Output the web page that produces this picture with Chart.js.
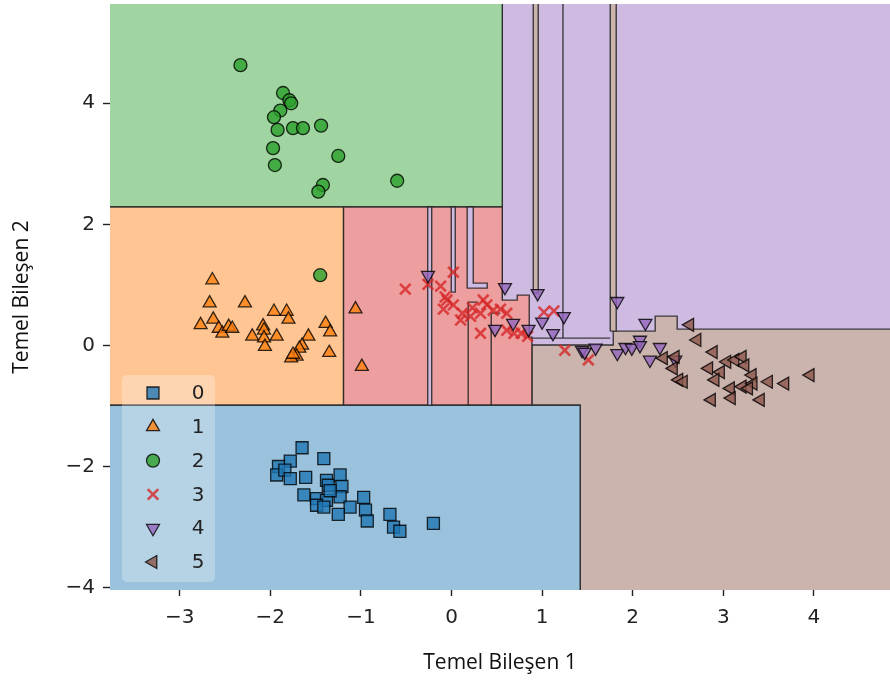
<!DOCTYPE html>
<html>
<head>
<meta charset="utf-8">
<title>Karar bölgeleri</title>
<script src="https://cdn.jsdelivr.net/npm/chart.js@4.4.1/dist/chart.umd.min.js"></script>
<style>
  html, body { margin: 0; padding: 0; background: #fff; }
  #wrap { width: 890px; height: 681px; }
</style>
</head>
<body>
<div id="wrap"><canvas id="regions" width="890" height="681"></canvas></div>
<script>
// axis ranges and ticks
const xLimits = [-3.77, 4.84];
const yLimits = [-4.04, 5.64];
const xTickValues = [-3, -2, -1, 0, 1, 2, 3, 4];
const yTickValues = [-4, -2, 0, 2, 4];
const classLabels = ['0', '1', '2', '3', '4', '5'];

// samples per class: [Temel Bileşen 1, Temel Bileşen 2]
const class0 = [[-1.65, -1.69], [-1.78, -1.91], [-1.91, -2.00], [-1.93, -2.14], [-1.84, -2.06], [-1.78, -2.20],
  [-1.61, -2.18], [-1.41, -1.87], [-1.38, -2.23], [-1.36, -2.31], [-1.23, -2.14], [-1.21, -2.33], [-1.63, -2.47],
  [-1.49, -2.53], [-1.38, -2.56], [-1.23, -2.50], [-1.12, -2.67], [-0.97, -2.51], [-0.95, -2.72], [-0.93, -2.90],
  [-1.25, -2.79], [-1.49, -2.64], [-1.41, -2.67], [-1.34, -2.40], [-0.68, -2.79], [-0.64, -3.00], [-0.57, -3.07],
  [-0.20, -2.94]];
const class1 = [[-2.64, 1.08], [-2.67, 0.70], [-2.28, 0.70], [-2.77, 0.34], [-2.63, 0.43], [-2.57, 0.28],
  [-2.53, 0.20], [-2.46, 0.31], [-2.42, 0.28], [-2.20, 0.15], [-2.08, 0.32], [-2.07, 0.25], [-2.07, 0.12],
  [-2.06, -0.02], [-1.93, 0.15], [-1.96, 0.56], [-1.82, 0.56], [-1.80, 0.43], [-1.58, 0.15], [-1.65, 0.00],
  [-1.68, -0.05], [-1.71, -0.18], [-1.77, -0.21], [-1.75, -0.15], [-1.39, 0.36], [-1.34, 0.22], [-1.35, -0.12],
  [-1.06, 0.60], [-0.99, -0.35]];
const class2 = [[-2.33, 4.63], [-1.86, 4.17], [-1.79, 4.05], [-1.77, 4.00], [-1.89, 3.88], [-1.96, 3.77],
  [-1.92, 3.56], [-1.75, 3.59], [-1.64, 3.59], [-1.44, 3.63], [-1.97, 3.26], [-1.95, 2.98], [-1.25, 3.13],
  [-1.42, 2.65], [-1.47, 2.54], [-0.60, 2.72], [-1.45, 1.16]];
const class3 = [[-0.51, 0.93], [-0.26, 1.01], [-0.12, 0.98], [0.02, 1.21], [-0.07, 0.80], [-0.09, 0.60],
  [0.02, 0.67], [0.12, 0.53], [0.21, 0.48], [0.23, 0.62], [0.32, 0.53], [0.35, 0.75], [0.39, 0.67],
  [0.32, 0.20], [0.46, 0.58], [0.54, 0.60], [0.61, 0.53], [0.61, 0.25], [0.69, 0.20], [0.77, 0.20],
  [0.84, 0.15], [1.02, 0.55], [1.13, 0.57], [1.25, -0.08], [1.51, -0.24], [-0.05, 0.75], [0.10, 0.42]];
const class4 = [[-0.26, 1.16], [0.59, 0.96], [0.95, 0.86], [0.48, 0.27], [0.68, 0.37], [0.85, 0.27],
  [1.00, 0.39], [1.12, 0.20], [1.24, 0.48], [1.83, 0.73], [1.44, -0.08], [1.59, -0.04], [1.83, -0.13],
  [1.92, -0.03], [1.99, -0.04], [2.08, 0.09], [2.14, 0.37], [2.30, -0.03], [2.19, -0.24], [2.47, -0.24],
  [1.47, -0.11], [2.08, 0.00]];
const class5 = [[2.63, 0.34], [2.71, 0.09], [2.89, -0.11], [3.04, -0.27], [3.13, -0.24], [3.21, -0.19],
  [3.24, -0.33], [2.84, -0.38], [2.97, -0.44], [2.91, -0.57], [3.08, -0.71], [3.21, -0.68], [3.32, -0.49],
  [3.33, -0.63], [3.28, -0.71], [3.50, -0.60], [3.68, -0.63], [3.96, -0.49], [2.87, -0.90], [3.41, -0.90],
  [2.34, -0.21], [2.45, -0.38], [2.51, -0.57], [2.56, -0.60], [2.47, -0.19], [3.09, -0.87]];
const samples = [class0, class1, class2, class3, class4, class5];

// decision regions of the classifier (polygon corners), grid runs a bit past the axes
const gx0 = -4.0, gx1 = 5.1, gy0 = -4.3, gy1 = 5.9;
const region4 = [[0.56, 0.005], [0.56, gy1], [gx1, gy1], [gx1, 0.005]];
const region5 = [[0.887, 0.005], [1.785, 0.005], [1.785, 0.236], [2.248, 0.236], [2.248, 0.484], [2.491, 0.484],
  [2.491, 0.269], [gx1, 0.269], [gx1, gy0], [1.42, gy0], [1.42, -0.987], [0.887, -0.987]];
const region2 = [[gx0, 2.286], [gx0, gy1], [0.56, gy1], [0.56, 2.286]];
const region1 = [[gx0, -0.987], [gx0, 2.286], [-1.192, 2.286], [-1.192, -0.987]];
const region3 = [[-1.192, 2.286], [0.56, 2.286], [0.56, 0.749], [0.725, 0.749], [0.725, 0.831], [0.858, 0.831],
  [0.858, 0.137], [0.887, 0.137], [0.887, -0.987], [-1.192, -0.987]];
const region0 = [[gx0, gy0], [gx0, -0.987], [1.42, -0.987], [1.42, gy0]];
// narrow slivers
const sliver4a = [[-0.263, -0.987], [-0.263, 2.286], [-0.219, 2.286], [-0.219, -0.987]];
const sliver4b = [[-0.003, 0.881], [-0.003, 2.286], [0.041, 2.286], [0.041, 0.881]];
const sliver4c = [[0.173, 2.286], [0.240, 2.286], [0.240, 1.030], [0.394, 1.030], [0.394, 0.947], [0.173, 0.947]];
const sliver5a = [[0.902, 0.864], [0.902, gy1], [0.957, gy1], [0.957, 0.864]];
const sliver5b = [[1.752, 0.236], [1.752, gy1], [1.818, gy1], [1.818, 0.236]];
// zero-width boundaries
const edge1 = [[0.184, -0.987], [0.184, 0.716], [0.295, 0.716]];
const edge2 = [[0.438, -0.987], [0.438, 0.534], [0.538, 0.534]];
const edge3 = [[1.23, gy1], [1.23, 0.121]];
const edge4 = [[0.887, 0.121], [1.752, 0.121]];

const regionLayers = [
  [4, region4], [5, region5], [2, region2], [1, region1], [3, region3], [0, region0],
  [4, sliver4a], [4, sliver4b], [4, sliver4c], [5, sliver5a], [5, sliver5b]
];
const edgeLines = [edge1, edge2, edge3, edge4];

const markerColors = ['31,119,180', '255,127,14', '44,160,44', '214,39,40', '148,103,189', '140,86,75'];
const regionColors = ['#9ac2dd', '#ffc593', '#a0d4a0', '#ed9e9e', '#cfbbe1', '#cbb3ae'];
const markerStyles = [
  { pointStyle: 'rect', rotation: 0, radius: 8.5 },
  { pointStyle: 'triangle', rotation: 0, radius: 7.5 },
  { pointStyle: 'circle', rotation: 0, radius: 6.5 },
  { pointStyle: 'crossRot', rotation: 0, radius: 7.5 },
  { pointStyle: 'triangle', rotation: 180, radius: 7.5 },
  { pointStyle: 'triangle', rotation: -90, radius: 7.5 }
];
const edgeColor = 'rgba(35,35,35,0.85)';

const toXY = pts => pts.map(([x, y]) => ({ x, y }));
const closed = pts => toXY(pts.concat([pts[0]]));
const tickText = v => (v < 0 ? '\u2212' + Math.abs(v) : String(v));

function markerPaint(cls) {
  const c = markerColors[cls];
  if (cls === 3) return { fill: 'rgba(' + c + ',0.8)', stroke: 'rgba(' + c + ',0.8)', width: 2.6 };
  return { fill: 'rgba(' + c + ',0.8)', stroke: 'rgba(0,0,0,0.8)', width: 1.3 };
}

const datasets = [];
regionLayers.forEach(([cls, pts], i) => {
  datasets.push({
    data: closed(pts),
    showLine: true,
    fill: 'shape',
    backgroundColor: regionColors[cls],
    borderColor: edgeColor,
    borderWidth: 1.4,
    pointRadius: 0,
    pointHoverRadius: 0,
    tension: 0,
    clip: 0,
    order: 1000 - i
  });
});
edgeLines.forEach((pts, i) => {
  datasets.push({
    data: toXY(pts),
    showLine: true,
    fill: false,
    borderColor: edgeColor,
    borderWidth: 1.4,
    pointRadius: 0,
    pointHoverRadius: 0,
    clip: 0,
    order: 500 - i
  });
});
samples.forEach((pts, cls) => {
  const st = markerStyles[cls];
  const paint = markerPaint(cls);
  datasets.push({
    label: classLabels[cls],
    data: toXY(pts),
    showLine: false,
    pointStyle: st.pointStyle,
    pointRotation: st.rotation,
    pointRadius: st.radius,
    pointHoverRadius: st.radius,
    pointBackgroundColor: paint.fill,
    pointBorderColor: paint.stroke,
    pointBorderWidth: paint.width,
    order: 50 - cls
  });
});

// legend drawn inside the plot, lower left
const insetLegend = {
  id: 'insetLegend',
  afterDatasetsDraw(chart) {
    const { ctx, chartArea } = chart;
    const boxW = 93, boxH = 207;
    const boxX = chartArea.left + 12;
    const boxY = chartArea.bottom - 8 - boxH;
    ctx.save();
    ctx.fillStyle = 'rgba(255,255,255,0.28)';
    ctx.beginPath();
    if (ctx.roundRect) ctx.roundRect(boxX, boxY, boxW, boxH, 5); else ctx.rect(boxX, boxY, boxW, boxH);
    ctx.fill();
    ctx.font = '20px "DejaVu Sans"';
    ctx.textAlign = 'center';
    ctx.textBaseline = 'middle';
    classLabels.forEach((label, i) => {
      const y = boxY + 18 + i * 33.8;
      const st = markerStyles[i];
      const paint = markerPaint(i);
      ctx.fillStyle = paint.fill;
      ctx.strokeStyle = paint.stroke;
      ctx.lineWidth = paint.width;
      Chart.helpers.drawPoint(ctx, { pointStyle: st.pointStyle, rotation: st.rotation, radius: st.radius, borderWidth: paint.width }, boxX + 31, y);
      ctx.fillStyle = '#222';
      ctx.fillText(label, boxX + 76, y + 1);
    });
    ctx.restore();
  }
};

// keep the plot frame flush with the canvas edges
function noLabelPadding(axis) {
  axis.paddingLeft = 0;
  axis.paddingRight = 0;
  axis.paddingTop = 0;
  axis.paddingBottom = 0;
}

Chart.defaults.font.family = 'DejaVu Sans';

new Chart(document.getElementById('regions'), {
  type: 'scatter',
  data: { datasets },
  plugins: [insetLegend],
  options: {
    responsive: false,
    devicePixelRatio: 1,
    animation: false,
    events: [],
    layout: { autoPadding: false, padding: { top: 4, right: 0, bottom: 0, left: 0 } },
    plugins: { legend: { display: false }, tooltip: { enabled: false } },
    scales: {
      x: {
        type: 'linear',
        min: xLimits[0],
        max: xLimits[1],
        afterBuildTicks: axis => { axis.ticks = xTickValues.map(v => ({ value: v })); },
        afterFit: axis => { axis.height = 91; noLabelPadding(axis); },
        grid: { drawOnChartArea: false, drawTicks: true, tickLength: 6, tickColor: '#222', tickWidth: 1.4 },
        border: { display: false },
        ticks: { font: { size: 20 }, color: '#222', padding: 10, maxRotation: 0, autoSkip: false, callback: tickText },
        title: { display: true, text: 'Temel Bileşen 1', color: '#111', font: { family: 'Open Sans', size: 21 }, padding: { top: 0, bottom: 5 } }
      },
      y: {
        type: 'linear',
        min: yLimits[0],
        max: yLimits[1],
        afterBuildTicks: axis => { axis.ticks = yTickValues.map(v => ({ value: v })); },
        afterFit: axis => { axis.width = 110; noLabelPadding(axis); },
        grid: { drawOnChartArea: false, drawTicks: true, tickLength: 7, tickColor: '#222', tickWidth: 1.4 },
        border: { display: false },
        ticks: { font: { size: 20 }, color: '#222', padding: 8, autoSkip: false, callback: tickText },
        title: { display: true, text: 'Temel Bileşen 2', color: '#111', font: { family: 'Open Sans', size: 21 }, padding: { top: 9, bottom: 0 } }
      }
    }
  }
});
</script>
</body>
</html>
